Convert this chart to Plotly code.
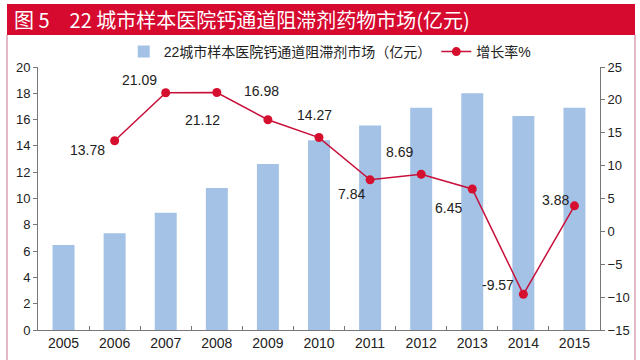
import plotly.graph_objects as go

years = ["2005", "2006", "2007", "2008", "2009", "2010", "2011", "2012", "2013", "2014", "2015"]
market = [6.47, 7.36, 8.91, 10.80, 12.63, 14.43, 15.56, 16.91, 18.00, 16.28, 16.91]
growth_years = ["2006", "2007", "2008", "2009", "2010", "2011", "2012", "2013", "2014", "2015"]
growth = [13.78, 21.09, 21.12, 16.98, 14.27, 7.84, 8.69, 6.45, -9.57, 3.88]
label_offsets = [(-27, -9), (-26, 13), (-14, -27), (-6, 29), (-5, 23),
                 (-19, -14), (-22, 22), (-24, -19), (-25, 9), (-19, 6)]

W, H = 640, 360
L, R, T, B = 38, 40, 67, 30
pw, ph = W - L - R, H - T - B

def px(X):
    return (X - L) / pw

def py(Y):
    return (H - B - Y) / ph

num_font = "Liberation Sans, Arial, Noto Sans CJK SC"
cjk_font = "Liberation Sans, Noto Sans CJK SC"
red = "#D5102F"

fig = go.Figure()
fig.add_trace(go.Bar(
    x=years, y=market, name="22城市样本医院钙通道阻滞剂市场（亿元）",
    marker=dict(color="#A3C2E5", line=dict(width=0)), yaxis="y"))
fig.add_trace(go.Scatter(
    x=growth_years, y=growth, name="增长率%", mode="lines+markers",
    line=dict(color="#C8103A", width=1.5),
    marker=dict(color=red, size=9), yaxis="y2"))

annotations = []
for yr, g, (dx, dy) in zip(growth_years, growth, label_offsets):
    annotations.append(dict(x=years.index(yr), y=g, xref="x", yref="y2", text=f"{g:.2f}",
                            showarrow=False, xshift=dx, yshift=dy,
                            font=dict(family=num_font, size=14, color="#222")))
annotations.append(dict(x=px(12), y=py(20), xref="paper", yref="paper",
                        xanchor="left", yanchor="middle", showarrow=False,
                        text="图 5　22 城市样本医院钙通道阻滞剂药物市场(亿元)",
                        font=dict(family="Noto Sans CJK SC", size=20, color="white")))

shapes = [
    dict(type="rect", xref="paper", yref="paper", x0=px(7), x1=px(635),
         y0=py(35), y1=py(4), fillcolor="#D6092F", line=dict(width=0), layer="below"),
    dict(type="line", xref="paper", yref="paper", x0=px(7), x1=px(7),
         y0=py(35), y1=py(362), line=dict(color="#D8A0B0", width=1.5)),
    dict(type="line", xref="paper", yref="paper", x0=px(635), x1=px(635),
         y0=py(35), y1=py(362), line=dict(color="#D8A0B0", width=1.5)),
]

fig.update_layout(
    width=W, height=H,
    margin=dict(l=L, r=R, t=T, b=B, autoexpand=False),
    paper_bgcolor="white", plot_bgcolor="white",
    bargap=0.57,
    showlegend=True,
    legend=dict(orientation="h", x=0.52, xanchor="center", y=py(52), yanchor="middle",
                font=dict(family=cjk_font, size=14, color="#222"),
                bgcolor="rgba(0,0,0,0)", itemwidth=30, tracegroupgap=0),
    xaxis=dict(type="category", range=[-0.5, len(years) - 0.5], showline=True,
               linecolor="#777", linewidth=1,
               ticks="inside", tickson="boundaries", ticklen=4, tickcolor="#777",
               tickfont=dict(family=num_font, size=14, color="#222"),
               showgrid=False, zeroline=False),
    yaxis=dict(range=[0, 20], dtick=2, showline=True, linecolor="#777", linewidth=1,
               ticks="outside", ticklen=4, tickcolor="#777", showgrid=False,
               zeroline=False, tickfont=dict(family=num_font, size=13, color="#222")),
    yaxis2=dict(range=[-15, 25], dtick=5, overlaying="y", side="right",
                showline=True, linecolor="#777", linewidth=1, ticks="outside",
                ticklen=4, tickcolor="#777", showgrid=False, zeroline=False,
                tickfont=dict(family=num_font, size=13, color="#222")),
    annotations=annotations,
    shapes=shapes,
)

fig.write_html("out.html", config={"displayModeBar": False},
               post_script="document.body.style.margin='0';document.body.style.padding='0';")
